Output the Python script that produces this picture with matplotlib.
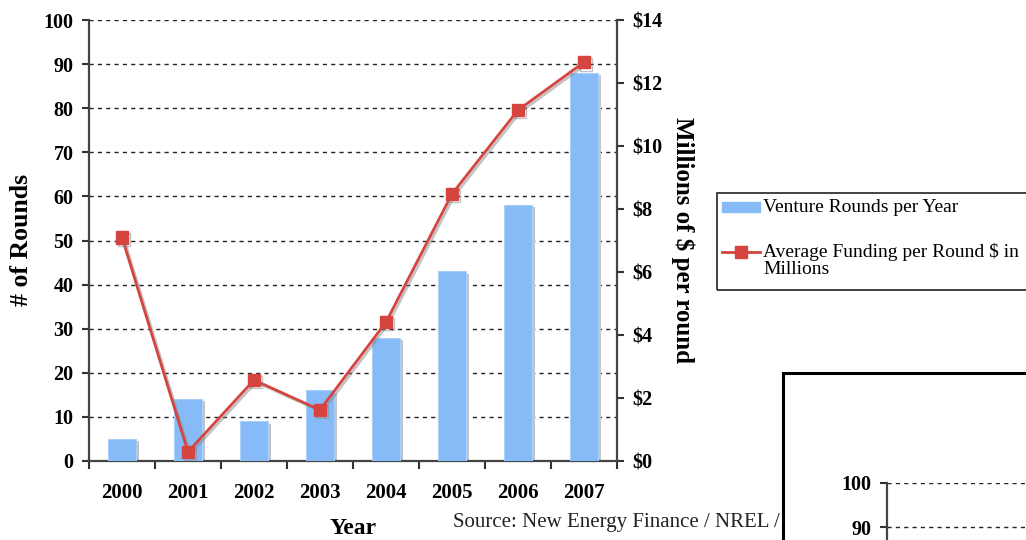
import numpy as np
import matplotlib.pyplot as plt
import matplotlib.patheffects as pe
from matplotlib.patches import Rectangle
from matplotlib.lines import Line2D

years = ['2000', '2001', '2002', '2003', '2004', '2005', '2006', '2007']
rounds = [5, 14, 9, 16, 28, 43, 58, 88]
avg_funding = [7.1, 0.29, 2.57, 1.62, 4.41, 8.48, 11.14, 12.66]
round_ticks = list(range(0, 101, 10))
money_ticks = list(range(0, 15, 2))
peek_ticks = [90, 100]

plt.rcParams['font.family'] = ['Liberation Serif', 'DejaVu Serif']

W, H = 1026, 540
blue = '#86bbf8'
red = '#d5443f'
grid_style = dict(linestyle=(0, (3, 3)), color='#222222', linewidth=1)


def fx(px):
    return px / W


def fy(py):
    return 1 - py / H


fig = plt.figure(figsize=(W / 100, H / 100), dpi=100)

ax = fig.add_axes([fx(89), fy(461), fx(617) - fx(89), fy(20) - fy(461)])
x = np.arange(len(years))
# gray drop shadow behind the bars
ax.bar(x + 0.05, np.array(rounds) - 0.5, width=0.42, color='#c4c4c4', zorder=2)
ax.bar(x, rounds, width=0.42, color=blue, edgecolor='#a9cff8', linewidth=0.8, zorder=3)
ax.set_xlim(-0.5, 7.5)
ax.set_ylim(0, 100)
ax.set_yticks(round_ticks)
ax.set_yticklabels([str(v) for v in round_ticks], fontsize=14.5, fontweight='bold')
ax.yaxis.grid(True, **grid_style)
ax.set_axisbelow(True)
ax.set_xticks(np.arange(-0.5, 8, 1))
ax.set_xticklabels([])
ax.set_xticks(x, minor=True)
ax.set_xticklabels(years, minor=True, fontsize=15, fontweight='bold')
ax.tick_params(axis='x', which='major', length=6, width=1.5, color='#333333')
ax.tick_params(axis='x', which='minor', length=0, pad=16)
ax.tick_params(axis='y', length=5, width=1.5, color='#333333', pad=6)
for s in ['top', 'right']:
    ax.spines[s].set_visible(False)
for s in ['left', 'bottom']:
    ax.spines[s].set_color('#444444')
    ax.spines[s].set_linewidth(1.6)

ax2 = ax.twinx()
ax2.plot(x, avg_funding, color=red, lw=2, marker='s', ms=9, zorder=5,
         path_effects=[pe.SimpleLineShadow(offset=(1.5, -1.5), shadow_color='#888888', alpha=0.5),
                       pe.Normal()])
ax2.set_ylim(0, 14)
ax2.set_yticks(money_ticks)
ax2.set_yticklabels(['\\$' + str(v) for v in money_ticks], fontsize=14.5, fontweight='bold')
ax2.tick_params(axis='y', length=5, width=1.5, color='#333333', pad=6)
for s in ['top', 'left', 'bottom']:
    ax2.spines[s].set_visible(False)
ax2.spines['right'].set_color('#444444')
ax2.spines['right'].set_linewidth(1.6)

fig.text(fx(22), fy(240), '# of Rounds', rotation=90, ha='center', va='center',
         fontsize=18.5, fontweight='bold')
fig.text(fx(683), fy(240), 'Millions of \\$ per round', rotation=270, ha='center', va='center',
         fontsize=18, fontweight='bold')
fig.text(fx(353), fy(528), 'Year', ha='center', va='center', fontsize=17, fontweight='bold')
fig.text(fx(453), fy(522), 'Source: New Energy Finance / NREL /', ha='left', va='center',
         fontsize=15, color='#222222', zorder=3)

# legend box (runs off the right edge)
fig.add_artist(Rectangle((fx(717), fy(290)), 0.5, fy(193) - fy(290), transform=fig.transFigure,
                         fill=False, edgecolor='#333333', lw=1.3))
fig.add_artist(Rectangle((fx(722), fy(212)), fx(760) - fx(722), fy(202) - fy(212),
                         transform=fig.transFigure, color=blue))
fig.text(fx(763), fy(207), 'Venture Rounds per Year', ha='left', va='center', fontsize=14)
fig.add_artist(Line2D([fx(722), fx(741), fx(760)], [fy(252)] * 3, transform=fig.transFigure,
                      color=red, lw=2, marker='s', ms=9, markevery=[1]))
fig.text(fx(763), fy(243), 'Average Funding per Round \\$ in\nMillions', ha='left', va='top',
         fontsize=14, linespacing=1.0)

# edge of a second chart peeking in at the lower right
fig.add_artist(Rectangle((fx(783), -0.1), 0.5, fy(373) + 0.1, transform=fig.transFigure,
                         facecolor='white', edgecolor='black', lw=2.2, zorder=4))
ax3 = fig.add_axes([fx(887), fy(483 + 441), 0.5, 441 / H], zorder=5)
ax3.patch.set_visible(False)
ax3.set_ylim(0, 100)
ax3.set_xlim(0, 1)
ax3.set_yticks(peek_ticks)
ax3.set_yticklabels([str(v) for v in peek_ticks], fontsize=14.5, fontweight='bold')
ax3.yaxis.grid(True, **grid_style)
ax3.set_xticks([])
ax3.tick_params(axis='y', length=5, width=1.5, color='#333333', pad=6)
for s in ['top', 'right', 'bottom']:
    ax3.spines[s].set_visible(False)
ax3.spines['left'].set_color('#444444')
ax3.spines['left'].set_linewidth(1.6)

fig.savefig('out.png', dpi=100)
